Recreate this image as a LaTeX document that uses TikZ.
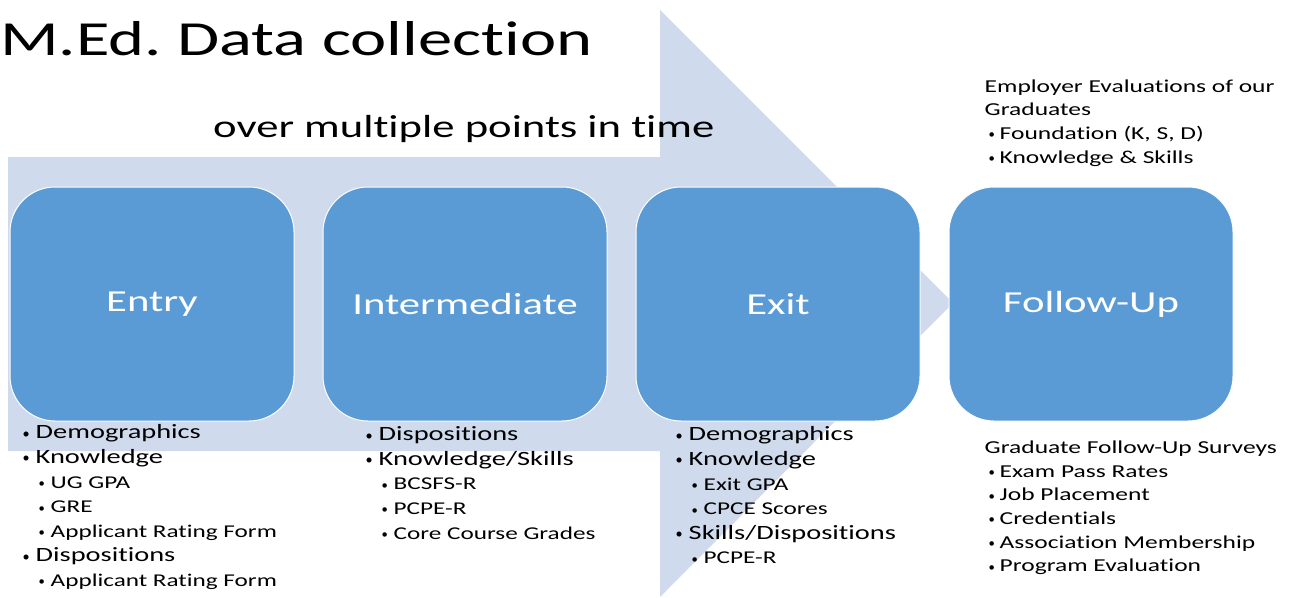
\documentclass[tikz,border=0pt]{standalone}
\usepackage{fontspec}
\setmainfont[FakeStretch=1.4, Ligatures=NoCommon]{Carlito}
\usetikzlibrary{positioning}
\definecolor{arrowblue}{RGB}{207,218,236}
\definecolor{boxblue}{RGB}{91,155,213}
\tikzstyle{stage} = [rectangle, rounded corners=45pt, draw=white, line width=1pt, fill=boxblue, text=white, minimum width=284pt, minimum height=234pt, font=\fontsize{30.5}{36}\selectfont]
\tikzstyle{list} = [align=left, inner sep=0pt, font=\fontsize{20.3}{24.6}\selectfont]
\tikzstyle{note} = [align=left, inner sep=0pt, font=\fontsize{18.2}{23.7}\selectfont]
\newcommand{\dotmark}{\raisebox{0.5pt}{\scalebox{0.5}[0.7]{\textbullet}}}
\newcommand{\itm}[1]{\makebox[14pt][l]{\hspace{1pt}\dotmark}#1}
\newcommand{\sitm}[1]{\hspace*{17pt}{\fontsize{18}{24.6}\selectfont\makebox[12pt][l]{\dotmark}#1}}
\newcommand{\nitm}[1]{\hspace*{4pt}\makebox[11pt][l]{\dotmark}#1}

\begin{document}
\begin{tikzpicture}[x=1pt, y=-1pt]
	\useasboundingbox (0,0) rectangle (1289,597);

	% Big arrow behind the stages
	\fill[arrowblue] (8,157) -- (660,157) -- (660,10) -- (953,303) -- (660,597) -- (660,451) -- (8,451) -- cycle;

	% Titles
	\node (title) [anchor=base west, inner sep=0pt, font=\fontsize{49}{56}\selectfont] at (0,55) {M.Ed.\ Data collection};
	\node (subtitle) [anchor=base west, inner sep=0pt, font=\fontsize{31.9}{38}\selectfont] at (213,137) {over multiple points in time};

	% Stages
	\node (entry) [stage] at (152,304) {Entry};
	\node (inter) [stage, right=28pt of entry] {Intermediate};
	\node (exit) [stage, right=28pt of inter] {Exit};
	\node (followup) [stage, right=28pt of exit] {Follow-Up};

	% Data collected at each stage
	\node (entrylist) [list, below right=3pt and 12pt of entry.south west] {\itm{Demographics}\\ \itm{Knowledge}\\ \sitm{UG GPA}\\ \sitm{GRE}\\ \sitm{Applicant Rating Form}\\ \itm{Dispositions}\\ \sitm{Applicant Rating Form}};
	\node (interlist) [list, below right=5pt and 42pt of inter.south west] {\itm{Dispositions}\\ \itm{Knowledge/Skills}\\ \sitm{BCSFS-R}\\ \sitm{PCPE-R}\\ \sitm{Core Course Grades}};
	\node (exitlist) [list, below right=5pt and 39pt of exit.south west] {\itm{Demographics}\\ \itm{Knowledge}\\ \sitm{Exit GPA}\\ \sitm{CPCE Scores}\\ \itm{Skills/Dispositions}\\ \sitm{PCPE-R}};

	% Follow-up sources
	\node (emplist) [note, above right=20pt and 36pt of followup.north west] {Employer Evaluations of our\\ Graduates\\ \nitm{Foundation (K, S, D)}\\ \nitm{Knowledge \& Skills}};
	\node (surveylist) [note, below right=19pt and 36pt of followup.south west] {Graduate Follow-Up Surveys\\ \nitm{Exam Pass Rates}\\ \nitm{Job Placement}\\ \nitm{Credentials}\\ \nitm{Association Membership}\\ \nitm{Program Evaluation}};

\end{tikzpicture}
\end{document}
